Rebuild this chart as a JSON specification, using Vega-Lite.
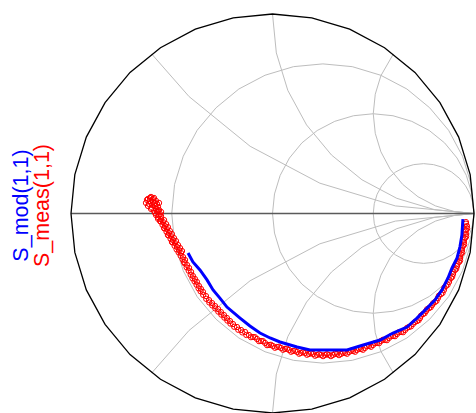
{
 "$schema": "https://vega.github.io/schema/vega-lite/v6.json",
 "width": 403, "height": 399,
 "autosize": "none",
 "padding": {"left": 71, "top": 14, "right": 2, "bottom": 0},
 "background": "white",
 "config": {"view": {"stroke": null}},
 "title": {"text": "S_mod(1,1)", "subtitle": "S_meas(1,1)", "orient": "left", "anchor": "middle", "color": "#0000ff", "subtitleColor": "#ff0000", "font": "Liberation Sans", "subtitleFont": "Liberation Sans", "fontSize": 21.5, "subtitleFontSize": 21.5, "fontWeight": "normal", "offset": 14, "subtitlePadding": 0, "dx": 8},
 "datasets": {
  "grid": [
   {"g":"a","i":0,"u":-1,"v":0},{"g":"a","i":1,"u":1,"v":0},
   {"g":"o","i":0,"u":1,"v":0},{"g":"o","i":1,"u":0.981,"v":0.195},{"g":"o","i":2,"u":0.924,"v":0.383},{"g":"o","i":3,"u":0.831,"v":0.556},{"g":"o","i":4,"u":0.707,"v":0.707},{"g":"o","i":5,"u":0.556,"v":0.831},{"g":"o","i":6,"u":0.383,"v":0.924},{"g":"o","i":7,"u":0.195,"v":0.981},{"g":"o","i":8,"u":0,"v":1},{"g":"o","i":9,"u":-0.195,"v":0.981},{"g":"o","i":10,"u":-0.383,"v":0.924},{"g":"o","i":11,"u":-0.556,"v":0.831},{"g":"o","i":12,"u":-0.707,"v":0.707},{"g":"o","i":13,"u":-0.831,"v":0.556},{"g":"o","i":14,"u":-0.924,"v":0.383},{"g":"o","i":15,"u":-0.981,"v":0.195},{"g":"o","i":16,"u":-1,"v":0},{"g":"o","i":17,"u":-0.981,"v":-0.195},{"g":"o","i":18,"u":-0.924,"v":-0.383},{"g":"o","i":19,"u":-0.831,"v":-0.556},{"g":"o","i":20,"u":-0.707,"v":-0.707},{"g":"o","i":21,"u":-0.556,"v":-0.831},{"g":"o","i":22,"u":-0.383,"v":-0.924},{"g":"o","i":23,"u":-0.195,"v":-0.981},{"g":"o","i":24,"u":0,"v":-1},{"g":"o","i":25,"u":0.195,"v":-0.981},{"g":"o","i":26,"u":0.383,"v":-0.924},{"g":"o","i":27,"u":0.556,"v":-0.831},{"g":"o","i":28,"u":0.707,"v":-0.707},{"g":"o","i":29,"u":0.831,"v":-0.556},{"g":"o","i":30,"u":0.924,"v":-0.383},{"g":"o","i":31,"u":0.981,"v":-0.195},{"g":"o","i":32,"u":1,"v":0},
   {"g":"r1","i":0,"u":1,"v":0},{"g":"r1","i":1,"u":0.986,"v":0.146},{"g":"r1","i":2,"u":0.943,"v":0.287},{"g":"r1","i":3,"u":0.874,"v":0.417},{"g":"r1","i":4,"u":0.78,"v":0.53},{"g":"r1","i":5,"u":0.667,"v":0.624},{"g":"r1","i":6,"u":0.537,"v":0.693},{"g":"r1","i":7,"u":0.396,"v":0.736},{"g":"r1","i":8,"u":0.25,"v":0.75},{"g":"r1","i":9,"u":0.104,"v":0.736},{"g":"r1","i":10,"u":-0.037,"v":0.693},{"g":"r1","i":11,"u":-0.167,"v":0.624},{"g":"r1","i":12,"u":-0.28,"v":0.53},{"g":"r1","i":13,"u":-0.374,"v":0.417},{"g":"r1","i":14,"u":-0.443,"v":0.287},{"g":"r1","i":15,"u":-0.486,"v":0.146},{"g":"r1","i":16,"u":-0.5,"v":0},{"g":"r1","i":17,"u":-0.486,"v":-0.146},{"g":"r1","i":18,"u":-0.443,"v":-0.287},{"g":"r1","i":19,"u":-0.374,"v":-0.417},{"g":"r1","i":20,"u":-0.28,"v":-0.53},{"g":"r1","i":21,"u":-0.167,"v":-0.624},{"g":"r1","i":22,"u":-0.037,"v":-0.693},{"g":"r1","i":23,"u":0.104,"v":-0.736},{"g":"r1","i":24,"u":0.25,"v":-0.75},{"g":"r1","i":25,"u":0.396,"v":-0.736},{"g":"r1","i":26,"u":0.537,"v":-0.693},{"g":"r1","i":27,"u":0.667,"v":-0.624},{"g":"r1","i":28,"u":0.78,"v":-0.53},{"g":"r1","i":29,"u":0.874,"v":-0.417},{"g":"r1","i":30,"u":0.943,"v":-0.287},{"g":"r1","i":31,"u":0.986,"v":-0.146},{"g":"r1","i":32,"u":1,"v":0},
   {"g":"r2","i":0,"u":1,"v":0},{"g":"r2","i":1,"u":0.99,"v":0.098},{"g":"r2","i":2,"u":0.962,"v":0.191},{"g":"r2","i":3,"u":0.916,"v":0.278},{"g":"r2","i":4,"u":0.854,"v":0.354},{"g":"r2","i":5,"u":0.778,"v":0.416},{"g":"r2","i":6,"u":0.691,"v":0.462},{"g":"r2","i":7,"u":0.598,"v":0.49},{"g":"r2","i":8,"u":0.5,"v":0.5},{"g":"r2","i":9,"u":0.402,"v":0.49},{"g":"r2","i":10,"u":0.309,"v":0.462},{"g":"r2","i":11,"u":0.222,"v":0.416},{"g":"r2","i":12,"u":0.146,"v":0.354},{"g":"r2","i":13,"u":0.084,"v":0.278},{"g":"r2","i":14,"u":0.038,"v":0.191},{"g":"r2","i":15,"u":0.01,"v":0.098},{"g":"r2","i":16,"u":0,"v":0},{"g":"r2","i":17,"u":0.01,"v":-0.098},{"g":"r2","i":18,"u":0.038,"v":-0.191},{"g":"r2","i":19,"u":0.084,"v":-0.278},{"g":"r2","i":20,"u":0.146,"v":-0.354},{"g":"r2","i":21,"u":0.222,"v":-0.416},{"g":"r2","i":22,"u":0.309,"v":-0.462},{"g":"r2","i":23,"u":0.402,"v":-0.49},{"g":"r2","i":24,"u":0.5,"v":-0.5},{"g":"r2","i":25,"u":0.598,"v":-0.49},{"g":"r2","i":26,"u":0.691,"v":-0.462},{"g":"r2","i":27,"u":0.778,"v":-0.416},{"g":"r2","i":28,"u":0.854,"v":-0.354},{"g":"r2","i":29,"u":0.916,"v":-0.278},{"g":"r2","i":30,"u":0.962,"v":-0.191},{"g":"r2","i":31,"u":0.99,"v":-0.098},{"g":"r2","i":32,"u":1,"v":0},
   {"g":"r3","i":0,"u":1,"v":0},{"g":"r3","i":1,"u":0.995,"v":0.049},{"g":"r3","i":2,"u":0.981,"v":0.096},{"g":"r3","i":3,"u":0.958,"v":0.139},{"g":"r3","i":4,"u":0.927,"v":0.177},{"g":"r3","i":5,"u":0.889,"v":0.208},{"g":"r3","i":6,"u":0.846,"v":0.231},{"g":"r3","i":7,"u":0.799,"v":0.245},{"g":"r3","i":8,"u":0.75,"v":0.25},{"g":"r3","i":9,"u":0.701,"v":0.245},{"g":"r3","i":10,"u":0.654,"v":0.231},{"g":"r3","i":11,"u":0.611,"v":0.208},{"g":"r3","i":12,"u":0.573,"v":0.177},{"g":"r3","i":13,"u":0.542,"v":0.139},{"g":"r3","i":14,"u":0.519,"v":0.096},{"g":"r3","i":15,"u":0.505,"v":0.049},{"g":"r3","i":16,"u":0.5,"v":0},{"g":"r3","i":17,"u":0.505,"v":-0.049},{"g":"r3","i":18,"u":0.519,"v":-0.096},{"g":"r3","i":19,"u":0.542,"v":-0.139},{"g":"r3","i":20,"u":0.573,"v":-0.177},{"g":"r3","i":21,"u":0.611,"v":-0.208},{"g":"r3","i":22,"u":0.654,"v":-0.231},{"g":"r3","i":23,"u":0.701,"v":-0.245},{"g":"r3","i":24,"u":0.75,"v":-0.25},{"g":"r3","i":25,"u":0.799,"v":-0.245},{"g":"r3","i":26,"u":0.846,"v":-0.231},{"g":"r3","i":27,"u":0.889,"v":-0.208},{"g":"r3","i":28,"u":0.927,"v":-0.177},{"g":"r3","i":29,"u":0.958,"v":-0.139},{"g":"r3","i":30,"u":0.981,"v":-0.096},{"g":"r3","i":31,"u":0.995,"v":-0.049},{"g":"r3","i":32,"u":1,"v":0},
   {"g":"x1p","i":0,"u":-0.6,"v":0.8},{"g":"x1p","i":1,"u":-0.414,"v":0.586},{"g":"x1p","i":2,"u":-0.111,"v":0.337},{"g":"x1p","i":3,"u":0.235,"v":0.152},{"g":"x1p","i":4,"u":0.61,"v":0.038},{"g":"x1p","i":5,"u":1,"v":0},
   {"g":"x1n","i":0,"u":-0.6,"v":-0.8},{"g":"x1n","i":1,"u":-0.414,"v":-0.586},{"g":"x1n","i":2,"u":-0.111,"v":-0.337},{"g":"x1n","i":3,"u":0.235,"v":-0.152},{"g":"x1n","i":4,"u":0.61,"v":-0.038},{"g":"x1n","i":5,"u":1,"v":0},
   {"g":"x2p","i":0,"u":0,"v":1},{"g":"x2p","i":1,"u":0.019,"v":0.805},{"g":"x2p","i":2,"u":0.076,"v":0.617},{"g":"x2p","i":3,"u":0.169,"v":0.444},{"g":"x2p","i":4,"u":0.293,"v":0.293},{"g":"x2p","i":5,"u":0.444,"v":0.169},{"g":"x2p","i":6,"u":0.617,"v":0.076},{"g":"x2p","i":7,"u":0.805,"v":0.019},{"g":"x2p","i":8,"u":1,"v":0},
   {"g":"x2n","i":0,"u":0,"v":-1},{"g":"x2n","i":1,"u":0.019,"v":-0.805},{"g":"x2n","i":2,"u":0.076,"v":-0.617},{"g":"x2n","i":3,"u":0.169,"v":-0.444},{"g":"x2n","i":4,"u":0.293,"v":-0.293},{"g":"x2n","i":5,"u":0.444,"v":-0.169},{"g":"x2n","i":6,"u":0.617,"v":-0.076},{"g":"x2n","i":7,"u":0.805,"v":-0.019},{"g":"x2n","i":8,"u":1,"v":0},
   {"g":"x3p","i":0,"u":0.6,"v":0.8},{"g":"x3p","i":1,"u":0.538,"v":0.691},{"g":"x3p","i":2,"u":0.51,"v":0.598},{"g":"x3p","i":3,"u":0.5,"v":0.5},{"g":"x3p","i":4,"u":0.51,"v":0.402},{"g":"x3p","i":5,"u":0.538,"v":0.309},{"g":"x3p","i":6,"u":0.584,"v":0.222},{"g":"x3p","i":7,"u":0.646,"v":0.146},{"g":"x3p","i":8,"u":0.722,"v":0.084},{"g":"x3p","i":9,"u":0.809,"v":0.038},{"g":"x3p","i":10,"u":0.902,"v":0.01},{"g":"x3p","i":11,"u":1,"v":0},
   {"g":"x3n","i":0,"u":0.6,"v":-0.8},{"g":"x3n","i":1,"u":0.538,"v":-0.691},{"g":"x3n","i":2,"u":0.51,"v":-0.598},{"g":"x3n","i":3,"u":0.5,"v":-0.5},{"g":"x3n","i":4,"u":0.51,"v":-0.402},{"g":"x3n","i":5,"u":0.538,"v":-0.309},{"g":"x3n","i":6,"u":0.584,"v":-0.222},{"g":"x3n","i":7,"u":0.646,"v":-0.146},{"g":"x3n","i":8,"u":0.722,"v":-0.084},{"g":"x3n","i":9,"u":0.809,"v":-0.038},{"g":"x3n","i":10,"u":0.902,"v":-0.01},{"g":"x3n","i":11,"u":1,"v":0}
  ],
  "meas": [
   {"u":-0.623,"v":0.068},{"u":-0.608,"v":0.078},{"u":-0.593,"v":0.073},{"u":-0.578,"v":0.063},{"u":-0.613,"v":0.048},{"u":-0.598,"v":0.043},{"u":-0.583,"v":0.038},{"u":-0.568,"v":0.033},{"u":-0.603,"v":0.023},{"u":-0.588,"v":0.013},{"u":-0.573,"v":0.008},{"u":-0.558,"v":-0.003},{"u":-0.628,"v":0.053},{"u":-0.563,"v":0.053},{"u":-0.593,"v":0.058},
   {"u":-0.618,"v":0.073},{"u":-0.603,"v":0.083},{"u":-0.588,"v":0.078},{"u":-0.573,"v":0.048},{"u":-0.618,"v":0.038},{"u":-0.608,"v":0.063},{"u":-0.578,"v":0.023},{"u":-0.563,"v":0.018},{"u":-0.583,"v":0.003},{"u":-0.568,"v":0.013},{"u":-0.553,"v":0.008},{"u":-0.563,"v":-0.01},{"u":-0.578,"v":-0.008},{"u":-0.598,"v":0.028},{"u":-0.583,"v":0.053},
   {"u":-0.568,"v":-0.018},{"u":-0.553,"v":-0.028},{"u":-0.543,"v":-0.043},{"u":-0.558,"v":-0.038},{"u":-0.534,"v":-0.063},{"u":-0.524,"v":-0.078},{"u":-0.538,"v":-0.073},{"u":-0.514,"v":-0.098},{"u":-0.504,"v":-0.113},{"u":-0.519,"v":-0.108},{"u":-0.494,"v":-0.133},{"u":-0.484,"v":-0.148},{"u":-0.499,"v":-0.143},{"u":-0.474,"v":-0.168},{"u":-0.464,"v":-0.183},{"u":-0.454,"v":-0.198},{"u":-0.444,"v":-0.218},{"u":-0.434,"v":-0.233},{"u":-0.439,"v":-0.243},{"u":-0.424,"v":-0.258},{"u":-0.414,"v":-0.273},{"u":-0.404,"v":-0.293},{"u":-0.395,"v":-0.313},{"u":-0.385,"v":-0.328},{"u":-0.375,"v":-0.343},{"u":-0.365,"v":-0.363},{"u":-0.355,"v":-0.378},{"u":-0.345,"v":-0.393},{"u":-0.33,"v":-0.414},{"u":-0.315,"v":-0.434},{"u":-0.3,"v":-0.449},{"u":-0.285,"v":-0.464},{"u":-0.27,"v":-0.479},{"u":-0.256,"v":-0.494},{"u":-0.241,"v":-0.509},{"u":-0.226,"v":-0.524},{"u":-0.211,"v":-0.539},{"u":-0.196,"v":-0.554},{"u":-0.176,"v":-0.569},{"u":-0.156,"v":-0.584},{"u":-0.136,"v":-0.594},{"u":-0.117,"v":-0.609},{"u":-0.097,"v":-0.619},{"u":-0.077,"v":-0.629},{"u":-0.057,"v":-0.639},{"u":-0.037,"v":-0.649},{"u":-0.017,"v":-0.659},{"u":0.002,"v":-0.664},{"u":0.022,"v":-0.669},{"u":0.042,"v":-0.674},{"u":0.062,"v":-0.679},{"u":0.082,"v":-0.684},{"u":0.102,"v":-0.689},{"u":0.122,"v":-0.694},{"u":0.141,"v":-0.699},{"u":0.161,"v":-0.699},{"u":0.181,"v":-0.704},{"u":0.201,"v":-0.704},{"u":0.221,"v":-0.709},{"u":0.241,"v":-0.709},{"u":0.261,"v":-0.709},{"u":0.28,"v":-0.709},{"u":0.3,"v":-0.709},{"u":0.32,"v":-0.704},{"u":0.34,"v":-0.704},{"u":0.36,"v":-0.699},{"u":0.38,"v":-0.694},{"u":0.4,"v":-0.689},{"u":0.419,"v":-0.684},{"u":0.439,"v":-0.679},{"u":0.459,"v":-0.674},{"u":0.479,"v":-0.664},{"u":0.499,"v":-0.659},{"u":0.519,"v":-0.649},{"u":0.538,"v":-0.639},{"u":0.558,"v":-0.634},{"u":0.578,"v":-0.624},{"u":0.598,"v":-0.614},{"u":0.618,"v":-0.604},{"u":0.638,"v":-0.594},{"u":0.658,"v":-0.584},{"u":0.677,"v":-0.569},{"u":0.697,"v":-0.554},{"u":0.717,"v":-0.539},{"u":0.732,"v":-0.524},{"u":0.747,"v":-0.504},{"u":0.762,"v":-0.489},{"u":0.777,"v":-0.474},{"u":0.792,"v":-0.459},{"u":0.806,"v":-0.444},{"u":0.821,"v":-0.424},{"u":0.836,"v":-0.404},{"u":0.851,"v":-0.383},{"u":0.861,"v":-0.363},{"u":0.876,"v":-0.343},{"u":0.886,"v":-0.323},{"u":0.896,"v":-0.303},{"u":0.906,"v":-0.283},{"u":0.916,"v":-0.263},{"u":0.926,"v":-0.243},{"u":0.931,"v":-0.223},{"u":0.935,"v":-0.203},{"u":0.94,"v":-0.183},{"u":0.945,"v":-0.163},{"u":0.95,"v":-0.143},{"u":0.955,"v":-0.123},{"u":0.96,"v":-0.103},{"u":0.96,"v":-0.083},{"u":0.965,"v":-0.063},{"u":0.96,"v":-0.043},
   {"u":-0.553,"v":-0.013},{"u":-0.538,"v":-0.033},{"u":-0.528,"v":-0.053},{"u":-0.519,"v":-0.068},{"u":-0.509,"v":-0.088},{"u":-0.499,"v":-0.103},{"u":-0.489,"v":-0.123},{"u":-0.479,"v":-0.138},{"u":-0.469,"v":-0.158},{"u":-0.459,"v":-0.173},{"u":-0.449,"v":-0.188},
   {"u":-0.568,"v":-0.027},{"u":-0.555,"v":-0.04},{"u":-0.546,"v":-0.057},{"u":-0.536,"v":-0.075},{"u":-0.526,"v":-0.092},{"u":-0.516,"v":-0.11},{"u":-0.506,"v":-0.127},{"u":-0.496,"v":-0.145},{"u":-0.486,"v":-0.162},{"u":-0.476,"v":-0.18},{"u":-0.466,"v":-0.195},{"u":-0.456,"v":-0.212},{"u":-0.446,"v":-0.23},{"u":-0.436,"v":-0.25},{"u":-0.426,"v":-0.27},{"u":-0.416,"v":-0.287},{"u":-0.406,"v":-0.307},{"u":-0.397,"v":-0.325},{"u":-0.387,"v":-0.34},{"u":-0.377,"v":-0.357},{"u":-0.367,"v":-0.375},{"u":-0.357,"v":-0.39},{"u":-0.344,"v":-0.408},{"u":-0.329,"v":-0.428},{"u":-0.314,"v":-0.446},{"u":-0.299,"v":-0.461},{"u":-0.284,"v":-0.476},{"u":-0.269,"v":-0.492},{"u":-0.254,"v":-0.507},{"u":-0.239,"v":-0.522},{"u":-0.224,"v":-0.537},{"u":-0.209,"v":-0.552},{"u":-0.19,"v":-0.568},{"u":-0.17,"v":-0.583},{"u":-0.15,"v":-0.596},{"u":-0.13,"v":-0.609},
   {"u":-0.107,"v":-0.62},{"u":-0.087,"v":-0.62},{"u":-0.067,"v":-0.64},{"u":-0.047,"v":-0.64},{"u":-0.027,"v":-0.66},{"u":-0.008,"v":-0.658},{"u":0.012,"v":-0.673},{"u":0.032,"v":-0.668},{"u":0.052,"v":-0.683},{"u":0.072,"v":-0.678},{"u":0.092,"v":-0.693},{"u":0.112,"v":-0.688},{"u":0.132,"v":-0.703},{"u":0.151,"v":-0.695},{"u":0.171,"v":-0.708},{"u":0.191,"v":-0.7},{"u":0.211,"v":-0.713},{"u":0.231,"v":-0.705},{"u":0.251,"v":-0.715},{"u":0.27,"v":-0.705},{"u":0.29,"v":-0.715},{"u":0.31,"v":-0.703},{"u":0.33,"v":-0.71},{"u":0.35,"v":-0.698},{"u":0.37,"v":-0.703},{"u":0.39,"v":-0.688},{"u":0.41,"v":-0.693},{"u":0.429,"v":-0.678},{"u":0.449,"v":-0.683},{"u":0.469,"v":-0.665},{"u":0.489,"v":-0.668},{"u":0.509,"v":-0.65},{"u":0.529,"v":-0.65},{"u":0.548,"v":-0.633},{"u":0.568,"v":-0.635},{"u":0.588,"v":-0.615},{"u":0.608,"v":-0.615},{"u":0.628,"v":-0.595},{"u":0.648,"v":-0.595},{"u":0.668,"v":-0.573},
   {"u":0.687,"v":-0.566},{"u":0.707,"v":-0.544},{"u":0.725,"v":-0.535},{"u":0.737,"v":-0.512},{"u":0.755,"v":-0.5},{"u":0.767,"v":-0.48},{"u":0.785,"v":-0.47},{"u":0.797,"v":-0.45},{"u":0.814,"v":-0.438},{"u":0.826,"v":-0.412},{"u":0.844,"v":-0.398},{"u":0.853,"v":-0.371},{"u":0.869,"v":-0.357},{"u":0.878,"v":-0.331},{"u":0.892,"v":-0.317},{"u":0.898,"v":-0.291},{"u":0.912,"v":-0.277},{"u":0.918,"v":-0.251},{"u":0.931,"v":-0.236},{"u":0.93,"v":-0.211},{"u":0.941,"v":-0.196},{"u":0.94,"v":-0.171},{"u":0.951,"v":-0.156},{"u":0.95,"v":-0.131},{"u":0.961,"v":-0.116},{"u":0.958,"v":-0.091},{"u":0.966,"v":-0.076},{"u":0.96,"v":-0.051}
  ],
  "mod": [
   {"i":0,"u":-0.419,"v":-0.198},{"i":1,"u":-0.395,"v":-0.243},{"i":2,"u":-0.36,"v":-0.283},{"i":3,"u":-0.325,"v":-0.333},{"i":4,"u":-0.295,"v":-0.383},{"i":5,"u":-0.261,"v":-0.424},{"i":6,"u":-0.226,"v":-0.469},{"i":7,"u":-0.161,"v":-0.524},{"i":8,"u":-0.112,"v":-0.564},{"i":9,"u":-0.062,"v":-0.599},{"i":10,"u":-0.012,"v":-0.624},{"i":11,"u":0.037,"v":-0.644},{"i":12,"u":0.122,"v":-0.669},{"i":13,"u":0.186,"v":-0.684},{"i":14,"u":0.285,"v":-0.684},{"i":15,"u":0.37,"v":-0.684},{"i":16,"u":0.434,"v":-0.664},{"i":17,"u":0.534,"v":-0.634},{"i":18,"u":0.598,"v":-0.599},{"i":19,"u":0.667,"v":-0.569},{"i":20,"u":0.717,"v":-0.524},{"i":21,"u":0.767,"v":-0.474},{"i":22,"u":0.806,"v":-0.434},{"i":23,"u":0.841,"v":-0.383},{"i":24,"u":0.871,"v":-0.323},{"i":25,"u":0.891,"v":-0.273},{"i":26,"u":0.916,"v":-0.223},{"i":27,"u":0.93,"v":-0.168},{"i":28,"u":0.94,"v":-0.108},{"i":29,"u":0.945,"v":-0.028}
  ]
 },
 "encoding": {
  "x": {"field": "u", "type": "quantitative", "scale": {"domain": [-1, 1], "nice": false, "zero": false}, "axis": null},
  "y": {"field": "v", "type": "quantitative", "scale": {"domain": [-1, 1], "nice": false, "zero": false}, "axis": null}
 },
 "layer": [
  {"data": {"name": "grid"}, "transform": [{"filter": "datum.g != 'o' && datum.g != 'a'"}], "mark": {"type": "line", "color": "#bdbdbd", "strokeWidth": 1}, "encoding": {"detail": {"field": "g"}, "order": {"field": "i", "type": "quantitative"}}},
  {"data": {"name": "grid"}, "transform": [{"filter": "datum.g == 'a'"}], "mark": {"type": "line", "color": "#5a5a5a", "strokeWidth": 1.6}, "encoding": {"order": {"field": "i", "type": "quantitative"}}},
  {"data": {"name": "grid"}, "transform": [{"filter": "datum.g == 'o'"}], "mark": {"type": "line", "color": "#000000", "strokeWidth": 1.3}, "encoding": {"order": {"field": "i", "type": "quantitative"}}},
  {"data": {"name": "meas"}, "mark": {"type": "point", "shape": "circle", "filled": false, "color": "#ff0000", "size": 28, "strokeWidth": 1, "opacity": 1}, "encoding": {}},
  {"data": {"name": "mod"}, "mark": {"type": "line", "color": "#0000ff", "strokeWidth": 3}, "encoding": {"order": {"field": "i", "type": "quantitative"}}}
 ]
}
